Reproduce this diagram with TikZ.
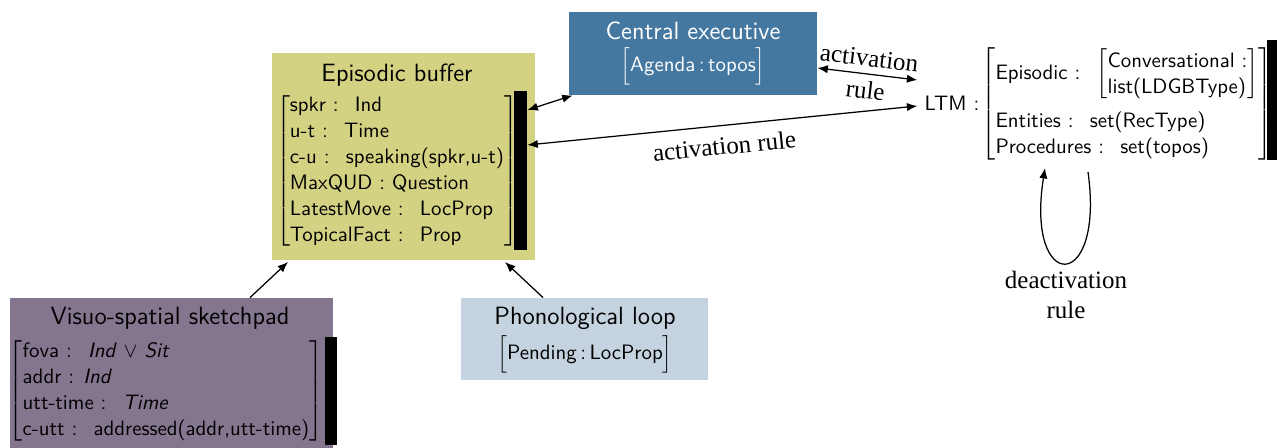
\documentclass[tikz,border=0pt]{standalone}
\usepackage{fontspec}
\newfontfamily\rulefont{Liberation Serif}
\usetikzlibrary{arrows.meta}

\definecolor{bufcol}{RGB}{211,210,131}
\definecolor{execol}{RGB}{69,120,161}
\definecolor{viscol}{RGB}{132,118,142}
\definecolor{phoncol}{RGB}{197,211,224}
\newcommand\pxu{0.48pt}
\newcommand\tallstrut{\rule[-6.5pt]{0pt}{17pt}}

\begin{document}
\begin{tikzpicture}[x=0.48pt, y=-0.48pt,
    box/.style={inner sep=0pt},
    title/.style={font=\sffamily\large},
    rec/.style={font=\sffamily, inner sep=0pt},
    bar/.style={fill=black, inner sep=0pt},
    arr/.style={semithick, >={Latex[length=5pt,width=4pt]}},
    rulelbl/.style={font=\rulefont\large}]
\useasboundingbox (0,0) rectangle (1277,448);
\renewcommand\arraystretch{1.04}

% boxes
\node[box, fill=bufcol, minimum width=263*\pxu, minimum height=207*\pxu] (eb) at (403.5,156.5) {};
\node[box, fill=execol, minimum width=248*\pxu, minimum height=83*\pxu] (ce) at (693,53.5) {};
\node[box, fill=viscol, minimum width=323*\pxu, minimum height=150*\pxu] (vs) at (171.5,373) {};
\node[box, fill=phoncol, minimum width=247*\pxu, minimum height=82*\pxu] (pl) at (584.5,339) {};

% titles
\node[title] (ebtitle) at (397,75) {Episodic buffer};
\node[title, white] (cetitle) at (693,31) {Central executive};
\node[title] (vstitle) at (170,318) {Visuo-spatial sketchpad};
\node[title] (pltitle) at (585,318) {Phonological loop};

% records
\node[rec] (ebrec) at (397,171) {$\left[\begin{tabular}{@{}l@{}}
    spkr : \ Ind\\
    u-t : \ Time\\
    c-u : \ speaking(spkr,u-t)\\
    MaxQUD : Question\\
    LatestMove : \ LocProp\\
    TopicalFact : \ Prop
  \end{tabular}\right]$};
\node[bar, minimum width=13*\pxu, minimum height=159*\pxu] (ebbar) at (520.5,170.5) {};

\node[rec, white] (cerec) at (693,66) {$\left[\tallstrut\mbox{Agenda\,:\,topos}\right]$};
\node[rec] (plrec) at (585,354) {$\left[\tallstrut\mbox{Pending\,:\,LocProp}\right]$};

\node[rec] (vsrec) at (166,391) {$\left[\begin{tabular}{@{}l@{}}
    fova : \ \textit{Ind} $\vee$ \textit{Sit}\\
    addr : \textit{Ind}\\
    utt-time : \ \textit{Time}\\
    c-utt : \ addressed(addr,utt-time)
  \end{tabular}\right]$};
\node[bar, minimum width=12*\pxu, minimum height=108*\pxu] (vsbar) at (331,391) {};

\node[font=\sffamily] (ltm) at (952,103) {LTM :};
\node[rec] (ltmrec) at (1127,104) {$\left[\begin{tabular}{@{}l@{}}
    Episodic : \ $\left[\begin{tabular}{@{}l@{}}\rule{0pt}{10pt}Conversational :\\ list(LDGBType)\rule[-4pt]{0pt}{0pt}\end{tabular}\right]$\\
    \noalign{\vskip 4pt}
    Entities : \ set(RecType)\\
    Procedures : \ set(topos)
  \end{tabular}\right]$};
\node[bar, minimum width=10*\pxu, minimum height=120*\pxu] (ltmbar) at (1272,100) {};

% connectors
\draw[arr,->] (250,0 |- vs.north) -- (288,262);
\draw[arr,->] (543,0 |- pl.north) -- (505,262);
\draw[arr,<->] (ebbar.east |- 0,110) -- ([xshift=4*\pxu]ce.south west);
\draw[arr,<->] (ce.east |- 0,68) -- node[rulelbl, sloped, above] {activation}
    node[rulelbl, sloped, below] {rule} (ltm.west |- 0,80);
\draw[arr,<->] (ebbar.east |- 0,145) -- node[rulelbl, sloped, below=2pt] {activation rule} (ltm.west |- 0,106);

\coordinate (loopa) at (1088,172);
\coordinate (loopb) at (1045,168);
\draw[arr,->] (loopa) .. controls (1105,294) and (1025,294) .. (loopb);
\node[rulelbl, align=center] (deact) at (1066,295) {deactivation\\rule};
\end{tikzpicture}
\end{document}
